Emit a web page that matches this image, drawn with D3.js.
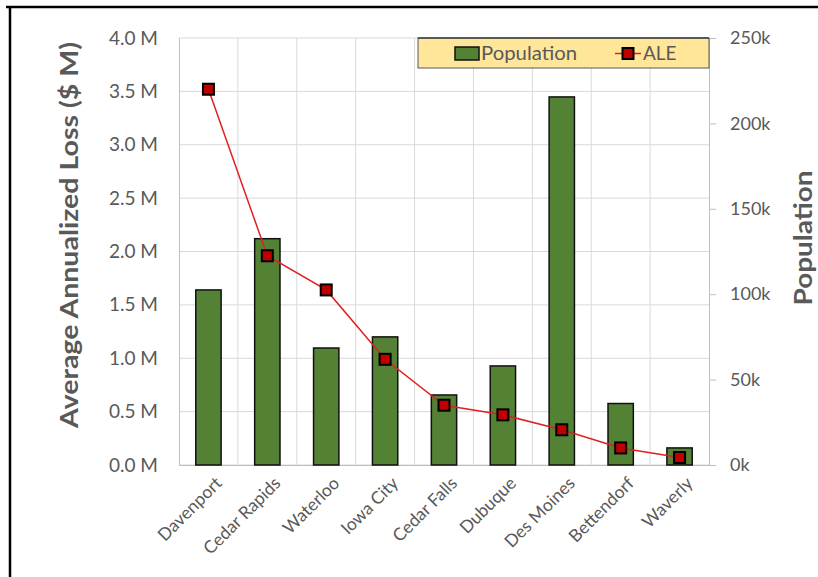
<!DOCTYPE html>
<html><head><meta charset="utf-8">
<script src="https://cdn.jsdelivr.net/npm/d3@7"></script>
<style>body{margin:0;background:#fff}svg{display:block}text{font-family:Lato,"Open Sans",sans-serif}</style>
</head><body>
<script>
const cities = ["Davenport","Cedar Rapids","Waterloo","Iowa City","Cedar Falls","Dubuque","Des Moines","Bettendorf","Waverly"];
const population = [102500,132500,68500,75000,41000,58000,215500,36000,10000];
const ale = [3.52,1.96,1.64,0.99,0.56,0.47,0.33,0.16,0.07];
const leftTicks = [0,0.5,1.0,1.5,2.0,2.5,3.0,3.5,4.0];
const rightTicks = [0,50000,100000,150000,200000,250000];

const W=818,H=577;
const m={l:179,r:709,t:38,b:465};
const svg=d3.select("body").append("svg").attr("width",W).attr("height",H);
svg.append("rect").attr("width",W).attr("height",H).attr("fill","#fff");

const x=d3.scaleBand().domain(cities).range([m.l,m.r]).paddingInner(0.57).paddingOuter(0.285);
const xb=d3.scaleBand().domain(cities).range([m.l,m.r]);
const yL=d3.scaleLinear().domain([0,4]).range([m.b,m.t]);
const yR=d3.scaleLinear().domain([0,250000]).range([m.b,m.t]);
const grid="#d9d9d9", axisCol="#bfbfbf", txt="#595959";

// gridlines
svg.append("g").selectAll("line").data(leftTicks).join("line")
  .attr("x1",m.l).attr("x2",m.r).attr("y1",d=>yL(d)).attr("y2",d=>yL(d))
  .attr("stroke",grid).attr("stroke-width",1);
svg.append("g").selectAll("line").data(cities.slice(1)).join("line")
  .attr("x1",d=>xb(d)).attr("x2",d=>xb(d)).attr("y1",m.t).attr("y2",m.b)
  .attr("stroke",grid).attr("stroke-width",1);

// axes
const axL=svg.append("g").attr("transform",`translate(${m.l},0)`)
  .call(d3.axisLeft(yL).tickValues(leftTicks).tickSize(0).tickPadding(21).tickFormat(d=>d3.format(".1f")(d)+" M"));
const axR=svg.append("g").attr("transform",`translate(${m.r},0)`)
  .call(d3.axisRight(yR).tickValues(rightTicks).tickSize(7).tickPadding(14).tickFormat(d=>(d/1000)+"k"));
const axB=svg.append("g").attr("transform",`translate(0,${m.b})`)
  .call(d3.axisBottom(xb).tickSize(0).tickPadding(10));
[axL,axR,axB].forEach(a=>{a.select(".domain").attr("stroke",axisCol);a.selectAll(".tick line").attr("stroke",axisCol);
  a.selectAll("text").attr("fill",txt).style("font-size","18px").style("font-family","Lato,'Open Sans',sans-serif");});
axL.selectAll("text").style("font-size","19px");
axB.selectAll("text").attr("text-anchor","end").attr("dy","0.35em")
  .attr("transform","translate(3,8) rotate(-45)").style("font-size","17.5px");

// bars
svg.append("g").selectAll("rect").data(cities).join("rect")
  .attr("x",d=>x(d)).attr("width",x.bandwidth())
  .attr("y",(d,i)=>yR(population[i])).attr("height",(d,i)=>m.b-yR(population[i]))
  .attr("fill","#548235").attr("stroke","#111").attr("stroke-width",1.5);

// line
const line=d3.line().x((d,i)=>xb(cities[i])+xb.bandwidth()/2).y(d=>yL(d));
svg.append("path").datum(ale).attr("d",line).attr("fill","none").attr("stroke","#e02020").attr("stroke-width",1.5);
svg.append("g").selectAll("rect").data(ale).join("rect")
  .attr("x",(d,i)=>xb(cities[i])+xb.bandwidth()/2-5.5).attr("y",d=>yL(d)-5.5)
  .attr("width",11).attr("height",11).attr("fill","#c00000").attr("stroke","#000").attr("stroke-width",2);

// legend
const lg=svg.append("g");
lg.append("rect").attr("x",418).attr("y",38).attr("width",291).attr("height",30)
  .attr("fill","#ffe699").attr("stroke","#595959").attr("stroke-width",1);
lg.append("line").attr("x1",418).attr("x2",709).attr("y1",38).attr("y2",38).attr("stroke","#404040").attr("stroke-width",1.5);
lg.append("rect").attr("x",455).attr("y",47).attr("width",24).attr("height",13)
  .attr("fill","#548235").attr("stroke","#111").attr("stroke-width",1.5);
lg.append("text").attr("x",481).attr("y",60).text("Population").attr("fill",txt).style("font-size","19px").attr("textLength",96).attr("lengthAdjust","spacingAndGlyphs");
lg.append("line").attr("x1",615).attr("x2",641).attr("y1",53.5).attr("y2",53.5).attr("stroke","#e02020").attr("stroke-width",1.5);
lg.append("rect").attr("x",622.5).attr("y",48).attr("width",11).attr("height",11).attr("fill","#c00000").attr("stroke","#000").attr("stroke-width",2);
lg.append("text").attr("x",643).attr("y",60).text("ALE").attr("fill",txt).style("font-size","19px");

// axis titles
svg.append("text").attr("transform","translate(78,235) rotate(-90)").attr("text-anchor","middle")
  .attr("fill",txt).style("font-size","24px").style("font-weight","bold")
  .attr("textLength",386).attr("lengthAdjust","spacingAndGlyphs").text("Average Annualized Loss  ($ M)");
svg.append("text").attr("transform","translate(812,238) rotate(-90)").attr("text-anchor","middle")
  .attr("fill",txt).style("font-size","24px").style("font-weight","bold")
  .attr("textLength",135).attr("lengthAdjust","spacingAndGlyphs").text("Population");

// frame
svg.append("line").attr("x1",6).attr("x2",818).attr("y1",7).attr("y2",7).attr("stroke","#000").attr("stroke-width",2.5);
svg.append("line").attr("x1",10).attr("x2",10).attr("y1",6).attr("y2",577).attr("stroke","#000").attr("stroke-width",2.5);
</script>
</body></html>
